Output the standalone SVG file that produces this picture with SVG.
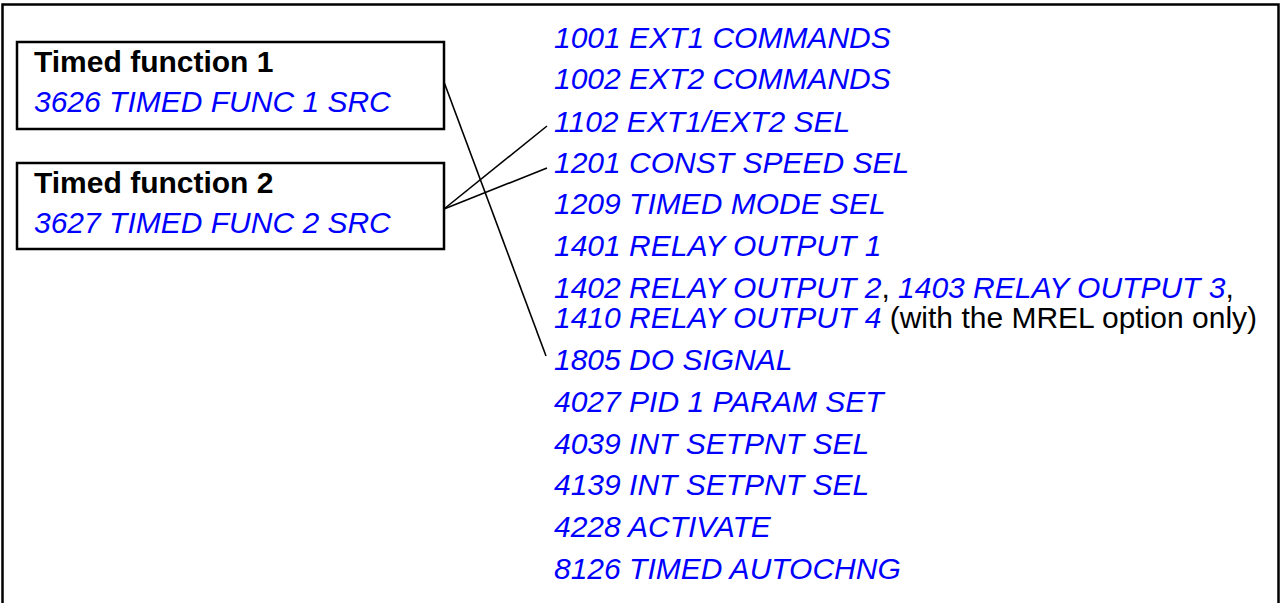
<svg xmlns="http://www.w3.org/2000/svg" width="1282" height="603" viewBox="0 0 1282 603">
<style>
text{font-family:"Liberation Sans",Arial,sans-serif;font-size:30px}
.t{font-weight:bold;fill:#000}
.p{font-style:italic;fill:#0000ff}
.k{fill:#000;font-style:normal}
.box{fill:#fff;stroke:#000;stroke-width:2.5}
.ln{stroke:#000;stroke-width:1.6;fill:none}
</style>
<rect x="2.5" y="4.5" width="1276" height="620" fill="#fff" stroke="#000" stroke-width="2.5"/>
<g id="connectors">
<line class="ln" x1="444" y1="82" x2="546" y2="356"/>
<line class="ln" x1="444" y1="209" x2="547" y2="126"/>
<line class="ln" x1="444" y1="209" x2="547" y2="168"/>
</g>
<g id="tf1">
<rect class="box" x="17" y="42" width="427" height="87"/>
<text class="t" x="34" y="72">Timed function 1</text>
<text class="p" x="34" y="112">3626 TIMED FUNC 1 SRC</text>
</g>
<g id="tf2">
<rect class="box" x="17" y="163" width="427" height="86"/>
<text class="t" x="34" y="193">Timed function 2</text>
<text class="p" x="34" y="233">3627 TIMED FUNC 2 SRC</text>
</g>
<g id="params">
<text class="p" x="554" y="48">1001 EXT1 COMMANDS</text>
<text class="p" x="554" y="89">1002 EXT2 COMMANDS</text>
<text class="p" x="554" y="132">1102 EXT1/EXT2 SEL</text>
<text class="p" x="554" y="173">1201 CONST SPEED SEL</text>
<text class="p" x="554" y="214">1209 TIMED MODE SEL</text>
<text class="p" x="554" y="256">1401 RELAY OUTPUT 1</text>
<text class="p" x="554" y="298">1402 RELAY OUTPUT 2<tspan class="k">, </tspan>1403 RELAY OUTPUT 3<tspan class="k">,</tspan></text>
<text class="p" x="554" y="328">1410 RELAY OUTPUT 4<tspan class="k"> (with the MREL option only)</tspan></text>
<text class="p" x="554" y="370">1805 DO SIGNAL</text>
<text class="p" x="554" y="412">4027 PID 1 PARAM SET</text>
<text class="p" x="554" y="454">4039 INT SETPNT SEL</text>
<text class="p" x="554" y="495">4139 INT SETPNT SEL</text>
<text class="p" x="554" y="537">4228 ACTIVATE</text>
<text class="p" x="554" y="579">8126 TIMED AUTOCHNG</text>
</g>
</svg>
